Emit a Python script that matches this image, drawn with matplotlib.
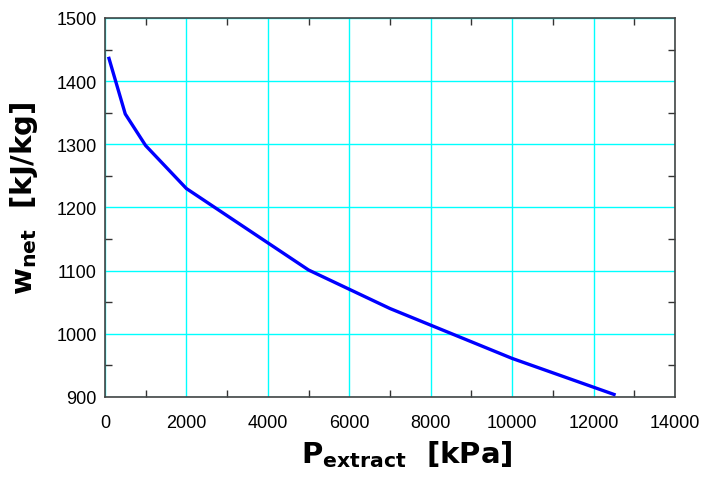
import numpy as np
import matplotlib.pyplot as plt
from matplotlib.ticker import MultipleLocator

plt.rcParams['font.family'] = ['Liberation Sans', 'DejaVu Sans']
plt.rcParams['mathtext.fontset'] = 'custom'
plt.rcParams['mathtext.bf'] = 'DejaVu Sans:bold'
plt.rcParams['mathtext.rm'] = 'DejaVu Sans'

# extraction pressure [kPa] vs net work [kJ/kg]
p_extract = [100, 500, 1000, 2000, 5000, 7000, 10000, 12500]
w_net = [1436, 1348, 1298, 1230, 1101, 1040, 961, 904]

fig = plt.figure(figsize=(7.04, 4.81), dpi=100)
ax = fig.add_axes([0.149, 0.1726, 0.81, 0.788])

ax.plot(p_extract, w_net, color='#0000ff', lw=2.4, zorder=3)

ax.set_xlim(0, 14000)
ax.set_ylim(900, 1500)
ax.xaxis.set_major_locator(MultipleLocator(2000))
ax.xaxis.set_minor_locator(MultipleLocator(1000))
ax.yaxis.set_major_locator(MultipleLocator(100))
ax.yaxis.set_minor_locator(MultipleLocator(50))

ax.grid(True, which='major', color='#00ffff', lw=1.0)
ax.set_axisbelow(True)

ax.tick_params(which='both', direction='in', top=True, right=True,
               color='#333333', labelsize=13)
ax.tick_params(which='major', length=0)
ax.tick_params(which='minor', length=5, width=1)
ax.tick_params(axis='x', pad=12)
ax.tick_params(axis='y', pad=6)
for s in ax.spines.values():
    s.set_color('#444444')
    s.set_linewidth(1.2)

lab_font = dict(fontsize=21, fontweight='bold', family=['DejaVu Sans'])
ax.set_xlabel(r'$\mathbf{P_{extract}}$  [kPa]', **lab_font)
ax.set_ylabel(r'$\mathbf{w_{net}}$  [kJ/kg]', **lab_font)
ax.xaxis.set_label_coords(0.53, -0.11)
ax.yaxis.set_label_coords(-0.113, 0.528)

fig.savefig('out.png', dpi=100)
